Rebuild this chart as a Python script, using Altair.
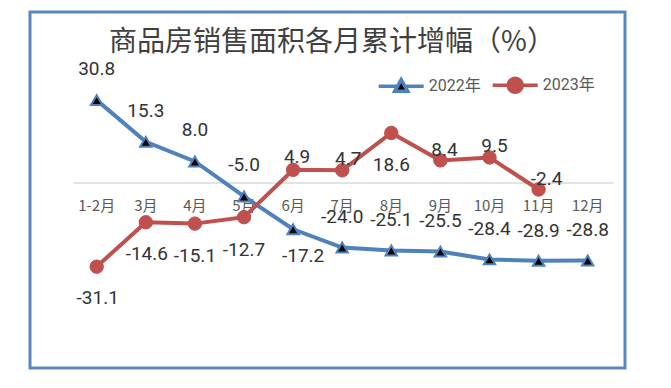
import altair as alt
import pandas as pd

# ---------------- data ----------------
months = ["1-2月", "3月", "4月", "5月", "6月", "7月", "8月", "9月", "10月", "11月", "12月"]
s2022 = [30.8, 15.3, 8.0, -5.0, -17.2, -24.0, -25.1, -25.5, -28.4, -28.9, -28.8]
s2023 = [-31.1, -14.6, -15.1, -12.7, 4.9, 4.7, 18.6, 8.4, 9.5, -2.4]
series_names = ["2022年", "2023年"]
title_text = "商品房销售面积各月累计增幅（%）"

# ---------------- styling (label offsets in px) ----------------
off2022 = [(0, -31), (0, -31), (0, -31), (0, -31), (10, 27), (0, -31),
           (0, -31), (0, -31), (0, -30), (0, -30), (0, -30)]
off2023 = [(1, 31), (1, 32), (0, 32), (0, 33), (4, -13), (6, -11),
           (0, 32), (4, -10), (5, -11), (8, -10)]

BLUE = "#4f81bd"
RED = "#c0504d"
BORDER = "#5b87bc"
NUM_FONT = "Roboto, Noto Sans CJK SC"
CJK_FONT = "Noto Sans CJK SC"

df22 = pd.DataFrame({"month": months, "value": s2022, "idx": range(len(s2022))})
df22["label"] = [f"{v:.1f}" for v in s2022]
df23 = pd.DataFrame({"month": months[:len(s2023)], "value": s2023, "idx": range(len(s2023))})
df23["label"] = [f"{v:.1f}" for v in s2023]

xscale = alt.Scale(type="point", domain=months, range=[66.7, 557.7], padding=0)
yscale = alt.Scale(domain=[-60, 60], range=[332.4, 9.6], nice=False, zero=False)


def X():
    return alt.X("month:N", scale=xscale, axis=None, sort=months)


def Y(field="value:Q"):
    return alt.Y(field, scale=yscale, axis=None)


layers = []

# zero line
zero = alt.Chart(pd.DataFrame({"z": [0]})).mark_rule(color="#d9d9d9", strokeWidth=1.5).encode(
    y=Y("z:Q"), x=alt.value(43.7), x2=alt.value(583.5)
)
layers.append(zero)

# month labels along the zero line
mlab = alt.Chart(pd.DataFrame({"month": months, "z": [0] * len(months)})).mark_text(
    font=CJK_FONT, fontSize=15, color="#595959", dy=23, baseline="middle"
).encode(x=X(), y=Y("z:Q"), text="month:N")
layers.append(mlab)

# lines
line22 = alt.Chart(df22).mark_line(color=BLUE, strokeWidth=4).encode(x=X(), y=Y())
line23 = alt.Chart(df23).mark_line(color=RED, strokeWidth=4).encode(x=X(), y=Y())
pts22 = alt.Chart(df22).mark_point(shape="triangle-up", filled=True, fill="black", stroke=BLUE,
                                   strokeWidth=2, size=130, opacity=1).encode(x=X(), y=Y())
pts23 = alt.Chart(df23).mark_point(shape="circle", filled=True, fill=RED, stroke=RED,
                                   strokeWidth=1, size=180, opacity=1).encode(x=X(), y=Y())
layers += [line22, line23, pts22, pts23]

# data labels
for df, offs in ((df22, off2022), (df23, off2023)):
    for i, (dx, dy) in enumerate(offs):
        layers.append(
            alt.Chart(df).transform_filter(alt.datum.idx == i).mark_text(
                font=NUM_FONT, fontSize=19, color="#333333", dx=dx, dy=dy, baseline="middle"
            ).encode(x=X(), y=Y(), text="label:N")
        )

# title
title = alt.Chart(pd.DataFrame({"t": [title_text]})).mark_text(
    font=CJK_FONT, fontSize=28, color="#404040", baseline="middle", align="center"
).encode(text="t:N", x=alt.value(302), y=alt.value(31))
layers.append(title)

# legend (native legend, custom symbol = line + marker)
path22 = "M-1,0L-0.17,0M0.17,0L1,0M0,-0.3L0.29,0.22L-0.29,0.22Z"
path23 = "M-1,0L1,0M-0.31,0A0.31,0.31,0,1,0,0.31,0A0.31,0.31,0,1,0,-0.31,0Z"
leg = alt.Chart(pd.DataFrame({"leg": series_names})).transform_filter("false").mark_point(
    filled=True, opacity=1
).encode(
    shape=alt.Shape("leg:N", scale=alt.Scale(domain=series_names, range=[path22, path23]),
                    legend=alt.Legend(title=None)),
    fill=alt.Fill("leg:N", scale=alt.Scale(domain=series_names, range=["#000000", RED]),
                  legend=alt.Legend(title=None)),
    stroke=alt.Stroke("leg:N", scale=alt.Scale(domain=series_names, range=[BLUE, RED]),
                      legend=alt.Legend(title=None)),
)
layers.append(leg)

chart = alt.layer(*layers).properties(
    width=595, height=356,
    autosize=alt.AutoSizeParams(type="none"),
    padding={"left": 22, "top": 4, "right": 10, "bottom": 5},
    background="white",
).configure_view(
    stroke=BORDER, strokeWidth=3
).configure_legend(
    orient="none", legendX=346.7, legendY=48.5, direction="horizontal",
    symbolSize=2025, symbolStrokeWidth=3.5, labelFont=NUM_FONT, labelFontSize=16,
    labelColor="#595959", labelOffset=3, columnPadding=5, padding=0,
)

chart.save("out.html", embed_options={"renderer": "svg", "actions": False})
